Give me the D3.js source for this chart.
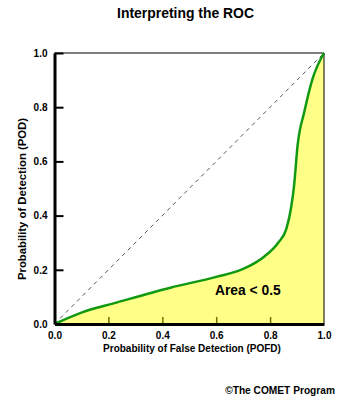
<!DOCTYPE html>
<html><head><meta charset="utf-8">
<script src="https://cdn.jsdelivr.net/npm/d3@7"></script>
<style>body{margin:0;background:#fff}svg{display:block}text{font-family:Arial,"Liberation Sans",sans-serif;font-weight:bold}</style>
</head><body><div id="c"></div>
<script>
const pofd = [0, 0.1, 0.23, 0.43, 0.6, 0.7, 0.78, 0.83, 0.86, 0.878, 0.889, 0.902, 0.927, 0.958, 1];
const pod  = [0, 0.042, 0.079, 0.134, 0.174, 0.203, 0.25, 0.3, 0.35, 0.43, 0.511, 0.659, 0.783, 0.906, 1];
const tickValues = [0, 0.2, 0.4, 0.6, 0.8, 1.0];
const tickLabels = ["0.0", "0.2", "0.4", "0.6", "0.8", "1.0"];
const titleText = "Interpreting the ROC";
const xTitle = "Probability of False Detection (POFD)";
const yTitle = "Probability of Detection (POD)";
const areaLabel = "Area < 0.5";
const credit = "©The COMET Program";

const W = 363, H = 398;
const m = {l: 54.5, r: 324, t: 53, b: 324};
const svg = d3.select("#c").append("svg").attr("width", W).attr("height", H);
const x = d3.scaleLinear().domain([0, 1]).range([m.l, m.r]);
const y = d3.scaleLinear().domain([0, 1]).range([m.b, m.t]);
const pts = pofd.map((v, i) => [v, pod[i]]);

function fit(sel, target) {
  const w = sel.node().getComputedTextLength();
  const fs = +sel.attr("font-size");
  sel.attr("font-size", (fs * target / w).toFixed(2));
  return sel;
}

svg.append("path").datum(pts)
  .attr("d", d3.area().x(d => x(d[0])).y0(y(0)).y1(d => y(d[1])).curve(d3.curveMonotoneX))
  .attr("fill", "#ffff88");

svg.append("line").attr("x1", x(0)).attr("y1", y(0)).attr("x2", x(1)).attr("y2", y(1))
  .attr("stroke", "#555").attr("stroke-width", 1).attr("stroke-dasharray", "4,4");

svg.append("line").attr("x1", x(0)).attr("x2", x(1)).attr("y1", y(1)).attr("y2", y(1)).attr("stroke", "#000").attr("stroke-width", 1);
svg.append("line").attr("x1", x(1)).attr("x2", x(1)).attr("y1", y(0)).attr("y2", y(1)).attr("stroke", "#000").attr("stroke-width", 1);

svg.append("path").datum(pts)
  .attr("d", d3.line().x(d => x(d[0])).y(d => y(d[1])).curve(d3.curveMonotoneX))
  .attr("fill", "none").attr("stroke", "#119911").attr("stroke-width", 2.5);

const xAxis = d3.axisBottom(x).tickValues(tickValues).tickFormat((d, i) => tickLabels[i]).tickSize(0).tickPadding(8);
const gx = svg.append("g").attr("transform", `translate(0,${y(0)})`).call(xAxis);
gx.select(".domain").attr("stroke-width", 3).attr("stroke", "#000");
gx.selectAll("text").attr("font-size", 10).attr("font-family", "Arial, Liberation Sans, sans-serif").attr("fill", "#000");
gx.selectAll(".tick").filter(d => d > 0 && d < 1).append("line").attr("y1", -1).attr("y2", -7).attr("stroke", "#707000").attr("stroke-width", 1.5);

const yAxis = d3.axisLeft(y).tickValues(tickValues).tickFormat((d, i) => tickLabels[i]).tickSize(0).tickPadding(7);
const gy = svg.append("g").attr("transform", `translate(${x(0)},0)`).call(yAxis);
gy.select(".domain").attr("stroke-width", 3).attr("stroke", "#000");
gy.selectAll("text").attr("font-size", 10).attr("font-family", "Arial, Liberation Sans, sans-serif").attr("fill", "#000");
gy.selectAll(".tick").filter(d => d > 0).append("line").attr("x1", 0).attr("x2", 9).attr("stroke", "#000").attr("stroke-width", 2);

fit(svg.append("text").attr("x", 185.5).attr("y", 18).attr("text-anchor", "middle").attr("font-size", 13).text(titleText), 137);
fit(svg.append("text").attr("x", 192).attr("y", 351.5).attr("text-anchor", "middle").attr("font-size", 10).text(xTitle), 178);
fit(svg.append("text").attr("transform", `translate(26,199) rotate(-90)`).attr("text-anchor", "middle").attr("font-size", 10).text(yTitle), 162);
fit(svg.append("text").attr("x", 215).attr("y", 295).attr("font-size", 14).text(areaLabel), 65.7);
fit(svg.append("text").attr("x", 335).attr("y", 394).attr("text-anchor", "end").attr("font-size", 10).text(credit), 110);
</script></body></html>
